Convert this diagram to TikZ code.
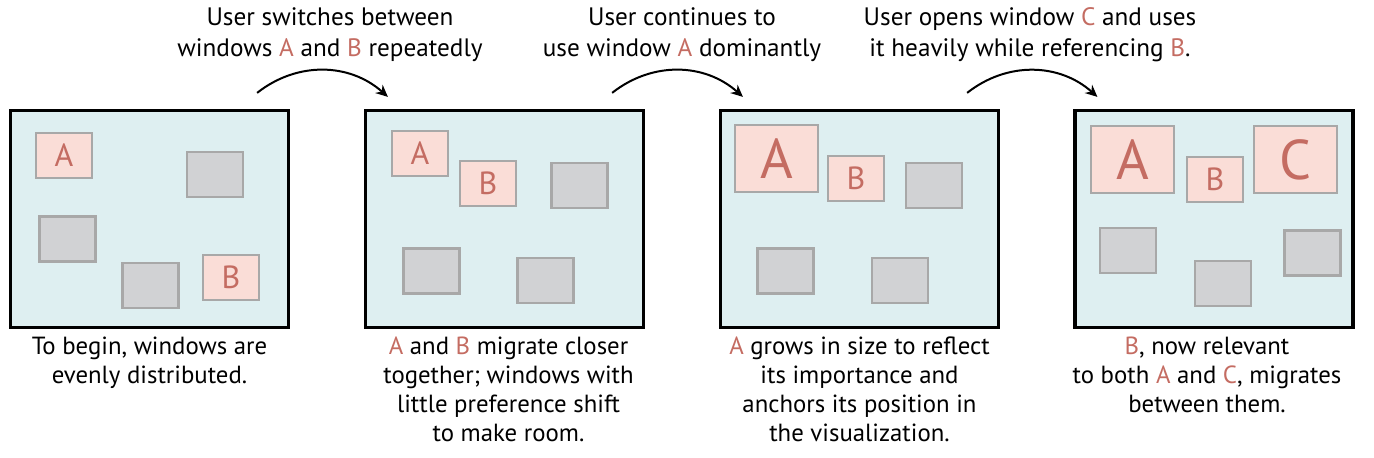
\documentclass[tikz,border=0pt]{standalone}
\usepackage{fontspec}
\setmainfont{PT Sans}
\usetikzlibrary{arrows.meta,positioning}

\definecolor{panelbg}{RGB}{222,239,241}
\definecolor{winpink}{RGB}{250,221,215}
\definecolor{wingray}{RGB}{209,210,212}
\definecolor{winedge}{RGB}{168,168,168}
\definecolor{winred}{RGB}{196,108,98}
\newcommand{\wn}[1]{\textcolor{winred}{#1}}

\tikzset{
	panel/.style={draw=black, line width=1.6pt, fill=panelbg, inner sep=0pt,
		minimum width=139pt, minimum height=108.5pt},
	win/.style={draw=winedge, line width=1.2pt, fill=wingray, inner sep=0pt,
		minimum width=28pt, minimum height=22.5pt},
	hot/.style={win, fill=winpink, text=winred, font=\fontsize{16}{16}\selectfont},
	bighot/.style={hot, minimum width=41.5pt, minimum height=33.5pt,
		font=\fontsize{28}{28}\selectfont},
	caption/.style={align=center, font=\fontsize{12.4}{14.5}\selectfont},
	cue/.style={align=center, font=\fontsize{12.6}{15.5}\selectfont},
	flow/.style={-{Stealth[length=6pt, width=5.5pt]}, line width=1pt, bend left=40}
}

\begin{document}
\begin{tikzpicture}[x=0.5pt, y=-0.5pt]
	\useasboundingbox (0,0) rectangle (1374,458);

	\node[panel] (p1) at (149.5,219) {};
	\node[panel] (p2) at (504.5,219) {};
	\node[panel] (p3) at (859.5,219) {};
	\node[panel] (p4) at (1214,219) {};

	\node[hot] (p1a) at (64,155.5) {A};
	\node[win] (p1w1) at (215,174.5) {};
	\node[win] (p1w2) at (67.5,239) {};
	\node[win] (p1w3) at (150.5,285.5) {};
	\node[hot] (p1b) at (231,277.5) {B};

	\node[hot] (p2a) at (420,153.5) {A};
	\node[hot] (p2b) at (488,183.5) {B};
	\node[win] (p2w1) at (579.5,185.5) {};
	\node[win] (p2w2) at (431.5,271) {};
	\node[win] (p2w3) at (545.5,280.5) {};

	\node[bighot] (p3a) at (776.5,158.5) {A};
	\node[hot] (p3b) at (856,178.5) {B};
	\node[win] (p3w1) at (934,185.5) {};
	\node[win] (p3w2) at (785.5,271) {};
	\node[win] (p3w3) at (900,280.5) {};

	\node[bighot] (p4a) at (1132.5,159.5) {A};
	\node[hot] (p4b) at (1215,179.5) {B};
	\node[bighot] (p4c) at (1295.5,159.5) {C};
	\node[win] (p4w1) at (1128,250.5) {};
	\node[win] (p4w2) at (1223,283.5) {};
	\node[win] (p4w3) at (1312.5,253) {};

	\node[cue] (t1) at (330,35) {User switches between\\windows \wn{A} and \wn{B} repeatedly};
	\node[cue] (t2) at (682,35) {User continues to\\use window \wn{A} dominantly};
	\node[cue] (t3) at (1030,35) {User opens window \wn{C} and uses\\it heavily while referencing \wn{B}.};

	\coordinate (s1) at ([xshift=-16.5pt, yshift=8pt]p1.north east);
	\coordinate (e1) at ([xshift=12pt, yshift=6pt]p2.north west);
	\coordinate (s2) at ([xshift=-16.5pt, yshift=8pt]p2.north east);
	\coordinate (e2) at ([xshift=12pt, yshift=6pt]p3.north west);
	\coordinate (s3) at ([xshift=-16.5pt, yshift=8pt]p3.north east);
	\coordinate (e3) at ([xshift=12pt, yshift=6pt]p4.north west);
	\draw[flow] (s1) to (e1);
	\draw[flow] (s2) to (e2);
	\draw[flow] (s3) to (e3);

	\node[caption, below=0.5pt of p1] (c1) {To begin, windows are\\evenly distributed.};
	\node[caption, below=0.5pt of p2, xshift=2pt] (c2) {\wn{A} and \wn{B} migrate closer\\together; windows with\\little preference shift\\to make room.};
	\node[caption, below=0.5pt of p3] (c3) {\wn{A} grows in size to reflect\\its importance and\\anchors its position in\\the visualization.};
	\node[caption, below=0.5pt of p4, xshift=-3.5pt] (c4) {\wn{B}, now relevant\\to both \wn{A} and \wn{C}, migrates\\between them.};
\end{tikzpicture}
\end{document}
